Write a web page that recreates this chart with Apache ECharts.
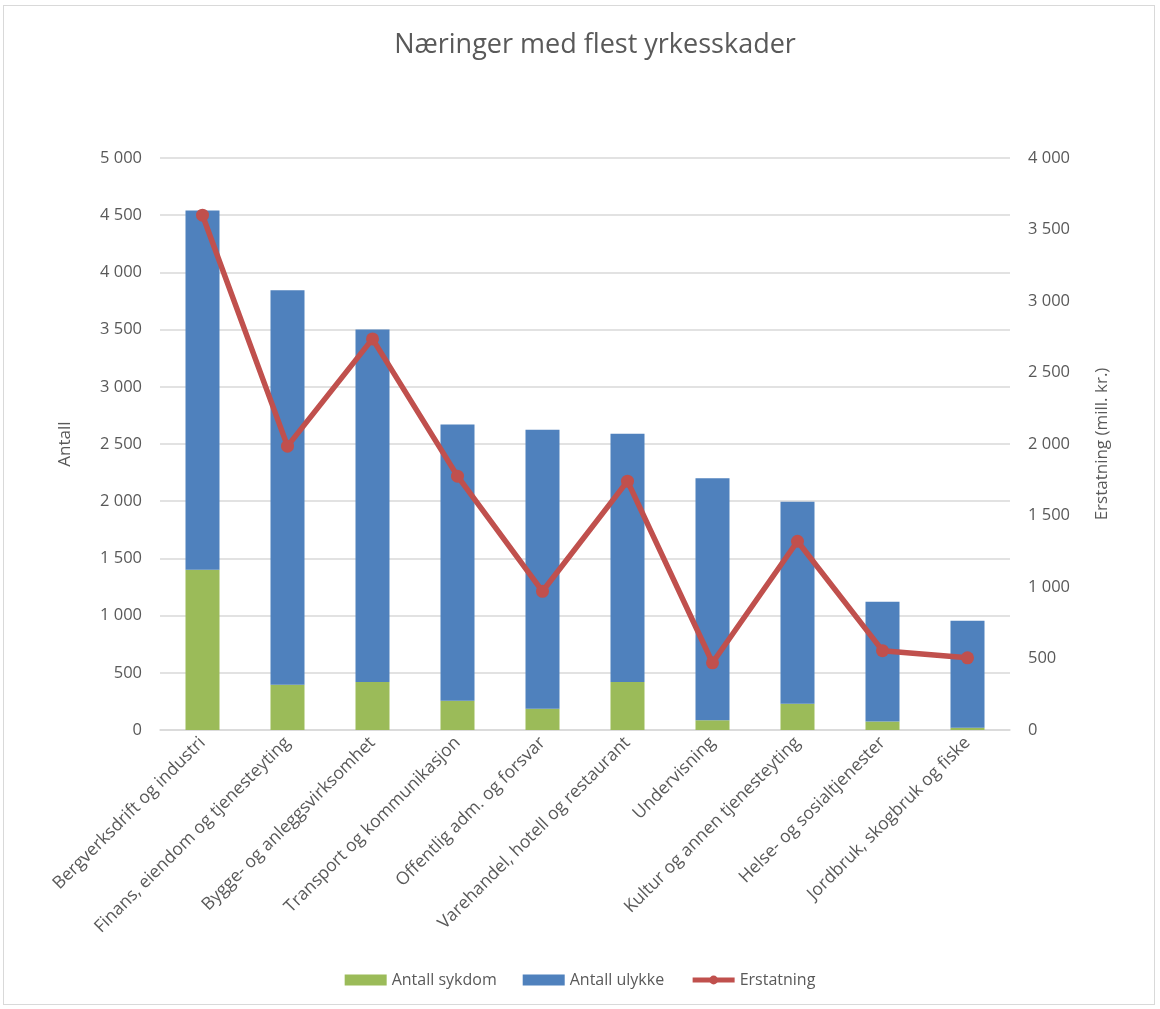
<!DOCTYPE html>
<html>
<head>
<meta charset="utf-8">
<script src="https://cdn.jsdelivr.net/npm/echarts@6/dist/echarts.min.js"></script>
<style>
html,body{margin:0;padding:0;background:#fff;}
#frame{position:absolute;left:3px;top:5px;width:1152px;height:1000px;border:1px solid #d9d9d9;box-sizing:border-box;}
#chart{position:absolute;left:0;top:0;width:1160px;height:1009px;}
</style>
</head>
<body>
<div id="frame"></div>
<div id="chart"></div>
<script>
var categories = ["Bergverksdrift og industri","Finans, eiendom og tjenesteyting","Bygge- og anleggsvirksomhet","Transport og kommunikasjon","Offentlig adm. og forsvar","Varehandel, hotell og restaurant","Undervisning","Kultur og annen tjenesteyting","Helse- og sosialtjenester","Jordbruk, skogbruk og fiske"];
var sykdom = [1400, 395, 420, 255, 185, 420, 85, 230, 75, 20];
var ulykke = [3140, 3450, 3080, 2415, 2440, 2170, 2115, 1765, 1045, 935];
var erstatning = [3600, 1985, 2735, 1775, 970, 1740, 470, 1320, 555, 505];

function fmt(v){ return String(v).replace(/\B(?=(\d{3})+(?!\d))/g, ' '); }

var chart = echarts.init(document.getElementById('chart'), null, {renderer:'canvas'});
var txt = '#595959';
var font = 'Open Sans, Liberation Sans, sans-serif';
chart.setOption({
  animation:false,
  textStyle:{fontFamily:font},
  title:{text:'Næringer med flest yrkesskader', left:590, textAlign:'center', top:27,
    textStyle:{fontSize:27, fontWeight:'normal', color:txt, fontFamily:font}},
  legend:{bottom:16, left:'center', itemGap:26, itemWidth:42, itemHeight:11,
    textStyle:{fontSize:16, color:txt},
    data:[{name:'Antall sykdom', icon:'rect'},{name:'Antall ulykke', icon:'rect'},
          {name:'Erstatning', lineStyle:{width:5}, itemStyle:{color:'#C0504D'}}]},
  grid:{left:160, right:150, top:158, bottom:279, containLabel:false},
  xAxis:{type:'category', data:categories,
    axisLine:{lineStyle:{color:'#d9d9d9', width:1.5}},
    axisTick:{show:false},
    axisLabel:{rotate:45, interval:0, fontSize:17.5, color:txt, margin:10}},
  yAxis:[
    {type:'value', min:0, max:5000, interval:500, name:'Antall', nameLocation:'middle', nameGap:86,
     nameTextStyle:{fontSize:17, color:txt},
     axisLine:{show:false}, axisTick:{show:false},
     splitLine:{lineStyle:{color:'#d9d9d9', width:1.5}},
     axisLabel:{fontSize:16.5, color:txt, margin:18, formatter:fmt}},
    {type:'value', min:0, max:4000, interval:500, name:'Erstatning (mill. kr.)', nameLocation:'middle', nameGap:84,
     nameTextStyle:{fontSize:17, color:txt},
     axisLine:{show:false}, axisTick:{show:false}, splitLine:{show:false},
     axisLabel:{fontSize:16.5, color:txt, margin:18, formatter:fmt}}
  ],
  series:[
    {name:'Antall sykdom', type:'bar', stack:'a', data:sykdom, barWidth:'40%',
     itemStyle:{color:'#9BBB59'}},
    {name:'Antall ulykke', type:'bar', stack:'a', data:ulykke, barWidth:'40%',
     itemStyle:{color:'#4F81BD'}},
    {name:'Erstatning', type:'line', yAxisIndex:1, data:erstatning,
     symbol:'circle', symbolSize:13, lineStyle:{color:'#C0504D', width:5.5},
     itemStyle:{color:'#C0504D'}}
  ]
});
</script>
</body>
</html>
